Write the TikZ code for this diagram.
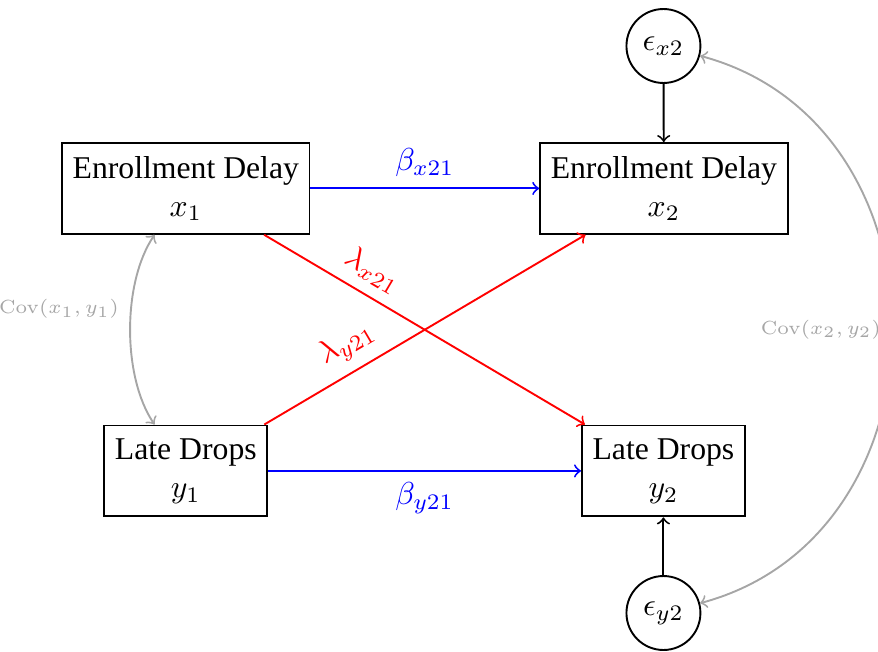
\documentclass[tikz,border=0pt]{standalone}
\usepackage[no-math]{fontspec}
\setmainfont{Liberation Serif}
\begin{document}
\tikzset{
  var/.style={draw, semithick, align=center, inner xsep=3.33pt, inner ysep=4.1pt},
  err/.style={draw, semithick, circle, minimum size=0.82cm, inner sep=1pt},
  regpath/.style={->, semithick},
  covpath/.style={<->, semithick, gray!70},
  covlabel/.style={font=\fontsize{6.3}{7.5}\selectfont, text=gray!70}
}
\begin{tikzpicture}
\useasboundingbox (0,0) rectangle (9.734,7.228);
\node[var] (x1) at (2.06,5.139) {Enrollment Delay\\$x_1$};
\node[var] (x2) at (7.36,5.139) {Enrollment Delay\\$x_2$};
\node[var] (y1) at (2.06,2.007) {Late Drops\\$y_1$};
\node[var] (y2) at (7.355,2.007) {Late Drops\\$y_2$};
\node[err] (ex2) at (7.355,6.718) {$\epsilon_{x2}$};
\node[err] (ey2) at (7.355,0.432) {$\epsilon_{y2}$};

\draw[regpath, blue] (x1) -- node[above] {$\beta_{x21}$} (x2);
\draw[regpath, blue] (y1) -- node[below] {$\beta_{y21}$} (y2);
\draw[regpath, red] (x1) -- node[sloped, above, pos=0.3] {$\lambda_{x21}$} (y2);
\draw[regpath, red] (y1) -- node[sloped, above, pos=0.3] {$\lambda_{y21}$} (x2);
\draw[regpath] (ex2) -- (x2);
\draw[regpath] (ey2) -- (y2);
\draw[covpath] (x1) to[bend right=34, looseness=0.78] node[above left, covlabel] {$\mathrm{Cov}(x_1,y_1)$} (y1);
\draw[covpath] (ex2.-15) .. controls +(-15:2.94) and +(15:2.94) .. node[left, covlabel] {$\mathrm{Cov}(x_2,y_2)$} (ey2.15);
\end{tikzpicture}
\end{document}
